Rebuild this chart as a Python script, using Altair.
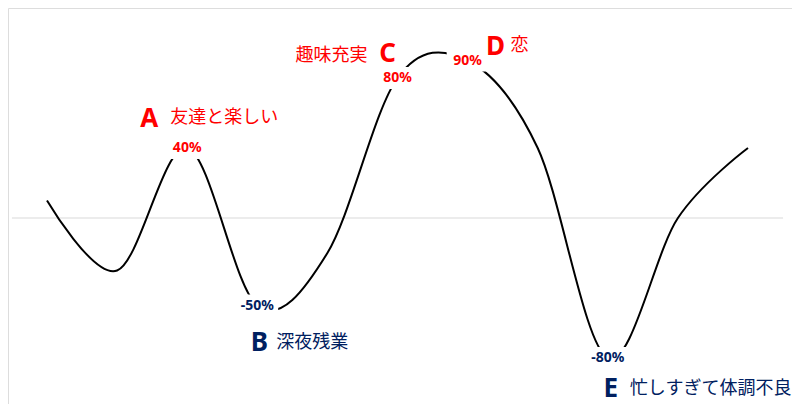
import altair as alt
import pandas as pd

# ---- data ----
index = list(range(11))
values = [0.10, -0.30, 0.40, -0.50, -0.20, 0.80, 0.90, 0.40, -0.80, 0.00, 0.40]
letters = ["", "", "A", "B", "", "C", "D", "", "E", "", ""]
notes = ["", "", "友達と楽しい", "深夜残業", "", "趣味充実", "恋", "", "忙しすぎて体調不良", "", ""]

df = pd.DataFrame({"i": index, "v": values, "letter": letters, "note": notes})
df["pct"] = [f"{round(v * 100)}%" for v in values]
df["sign"] = ["pos" if v >= 0 else "neg" for v in values]

edges = pd.DataFrame({"a": [-0.5], "b": [10.5], "z": [0.0]})

# ---- layout (pixels) ----
W, H = 784, 396
STEP = 70.1          # px per category
X0 = 39              # px of first category centre
Y0 = 210             # px of the zero line
PX_PER_UNIT = 175

xscale = alt.Scale(domain=[-X0 / STEP, (W - X0) / STEP], nice=False, zero=False)
yscale = alt.Scale(domain=[(Y0 - H) / PX_PER_UNIT, Y0 / PX_PER_UNIT], nice=False, zero=False)
cscale = alt.Scale(domain=["pos", "neg"], range=["#FF0000", "#002060"])

X = alt.X("i:Q", scale=xscale, axis=None)
Y = alt.Y("v:Q", scale=yscale, axis=None)

base = alt.Chart(df)

zero = alt.Chart(edges).mark_rule(color="#d9d9d9", strokeWidth=1).encode(
    x=alt.X("a:Q", scale=xscale, axis=None),
    x2="b:Q",
    y=alt.Y("z:Q", scale=yscale, axis=None),
)

line = base.mark_line(color="black", strokeWidth=2, interpolate="cardinal").encode(x=X, y=Y)

labelled = base.transform_filter("datum.letter != ''")

box = labelled.mark_point(
    shape="M-1.9,-1H1.9V1H-1.9Z", filled=True, color="white", opacity=1, size=484, strokeWidth=0
).encode(x=X, y=Y)

pct = labelled.mark_text(
    font="Noto Sans", fontSize=14, fontWeight="bold", baseline="middle", align="center"
).encode(
    x=X, y=Y, text="pct:N", color=alt.Color("sign:N", scale=cscale, legend=None)
)

# offsets of the annotation letter and note relative to their point (dx, dy, align)
offsets = {
    "A": ((-38, -29), (-17, -30, "left")),
    "B": ((2, 37), (19, 37, "left")),
    "C": ((-10, -24), (-30, -22, "right")),
    "D": ((28, -14), (43, -15, "left")),
    "E": ((3, 31), (22, 31, "left")),
}

layers = [zero, line, box, pct]
for key, ((ldx, ldy), (ndx, ndy, nal)) in offsets.items():
    sub = base.transform_filter(f"datum.letter == '{key}'")
    layers.append(
        sub.mark_text(
            font="Noto Sans", fontSize=26, fontWeight="bold", baseline="middle",
            align="center", dx=ldx, dy=ldy
        ).encode(x=X, y=Y, text="letter:N", color=alt.Color("sign:N", scale=cscale, legend=None))
    )
    layers.append(
        sub.mark_text(
            font="Noto Sans CJK JP", fontSize=18, baseline="middle",
            align=nal, dx=ndx, dy=ndy
        ).encode(x=X, y=Y, text="note:N", color=alt.Color("sign:N", scale=cscale, legend=None))
    )

chart = alt.layer(*layers).properties(
    width=W, height=H, padding=0, autosize=alt.AutoSizeParams(type="none")
).configure_view(stroke="#d9d9d9", strokeWidth=1).configure(background="white")

chart.save("out.html", embed_options={"renderer": "svg", "actions": False})
